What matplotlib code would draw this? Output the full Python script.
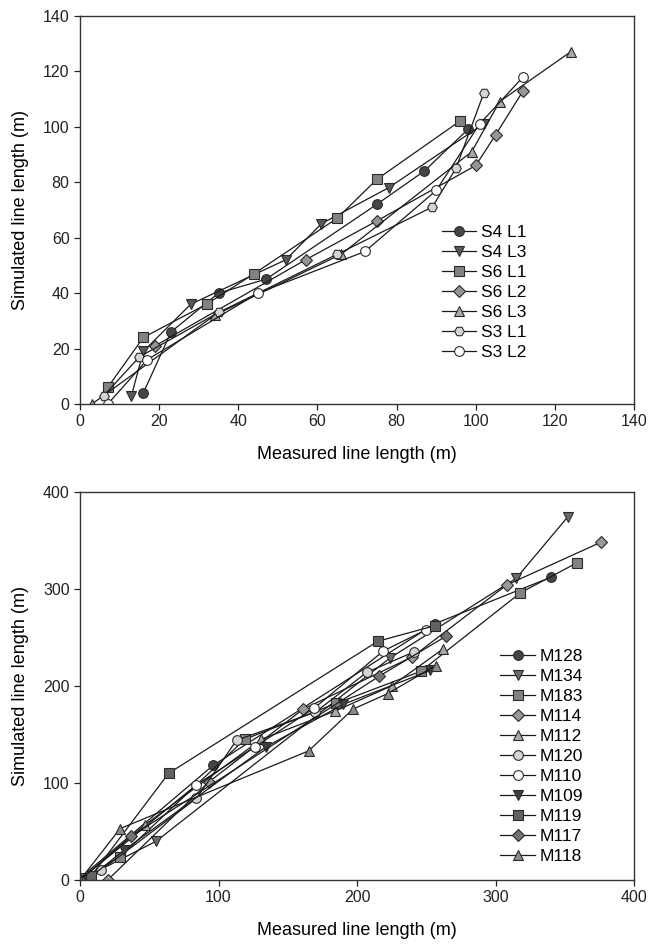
#!/usr/bin/env python3

import matplotlib
matplotlib.use("Agg")
import matplotlib.pyplot as plt

# top panel: measured (x) vs simulated (y) line length, m
top_names = ["S4 L1", "S4 L3", "S6 L1", "S6 L2", "S6 L3", "S3 L1", "S3 L2"]
top_x = [
    [16, 23, 35, 47, 75, 87, 98],
    [13, 16, 28, 52, 61, 78, 102],
    [7, 16, 32, 44, 65, 75, 96],
    [19, 57, 75, 100, 105, 112],
    [3, 34, 66, 99, 106, 124],
    [6, 15, 35, 65, 89, 95, 102],
    [7, 17, 45, 72, 90, 101, 112],
]
top_y = [
    [4, 26, 40, 45, 72, 84, 99],
    [3, 19, 36, 52, 65, 78, 101],
    [6, 24, 36, 47, 67, 81, 102],
    [21, 52, 66, 86, 97, 113],
    [0, 32, 54, 91, 109, 127],
    [3, 17, 33, 54, 71, 85, 112],
    [0, 16, 40, 55, 77, 101, 118],
]
top_markers = ["o", "v", "s", "D", "^", "H", "o"]
top_colors = ["#454545", "#585858", "#828282", "#959595", "#a8a8a8", "#d4d4d4", "#ffffff"]

# bottom panel
bot_names = ["M128", "M134", "M183", "M114", "M112", "M120", "M110",
             "M109", "M119", "M117", "M118"]
bot_x = [
    [0, 96, 256, 340],
    [0, 55, 224, 315, 352],
    [2, 29, 119, 185, 246, 318, 359],
    [20, 93, 161, 240, 308, 376],
    [0, 47, 131, 184, 225, 262],
    [15, 84, 113, 170, 207, 241],
    [0, 84, 126, 169, 219, 250],
    [5, 32, 134, 190, 253],
    [8, 64, 215, 256],
    [0, 37, 216, 264],
    [0, 29, 165, 197, 222, 257],
]
bot_y = [
    [2, 118, 264, 312],
    [0, 40, 229, 311, 374],
    [2, 24, 145, 182, 215, 296, 327],
    [0, 101, 176, 230, 304, 348],
    [0, 57, 145, 174, 200, 238],
    [10, 84, 144, 173, 214, 235],
    [0, 98, 137, 177, 236, 258],
    [0, 31, 137, 181, 216],
    [4, 110, 246, 262],
    [0, 45, 210, 251],
    [0, 53, 133, 176, 192, 221],
]
bot_markers = ["o", "v", "s", "D", "^", "o", "o", "v", "s", "D", "^"]
bot_colors = ["#454545", "#6a6a6a", "#828282", "#999999", "#a8a8a8", "#d4d4d4",
              "#ffffff", "#3e3e3e", "#626262", "#747474", "#8a8a8a"]


def draw(ax, xs, ys, names, markers, colors):
    for x, y, name, m, c in zip(xs, ys, names, markers, colors):
        ax.plot(x, y, color="#1a1a1a", lw=0.9, marker=m, ms=7 if m != "D" else 6,
                mfc=c, mec="#2a2a2a", mew=0.8, label=name)


plt.rcParams["font.family"] = ["Liberation Sans", "DejaVu Sans"]
fig = plt.figure(figsize=(6.49, 9.44), dpi=100)
ax1 = fig.add_axes([0.1233, 0.572, 0.8537, 0.4114])
ax2 = fig.add_axes([0.1233, 0.0678, 0.8537, 0.4112])

draw(ax1, top_x, top_y, top_names, top_markers, top_colors)
ax1.set_xlim(0, 140)
ax1.set_ylim(0, 140)
ax1.set_xticks(range(0, 141, 20))
ax1.set_yticks(range(0, 141, 20))

draw(ax2, bot_x, bot_y, bot_names, bot_markers, bot_colors)
ax2.set_xlim(0, 400)
ax2.set_ylim(0, 400)
ax2.set_xticks(range(0, 401, 100))
ax2.set_yticks(range(0, 401, 100))

for ax in (ax1, ax2):
    ax.set_xlabel("Measured line length (m)", fontsize=13, labelpad=12)
    ax.set_ylabel("Simulated line length (m)", fontsize=13, labelpad=10)
    ax.tick_params(direction="out", length=4, width=0.9, labelsize=11.5,
                   top=False, right=False, colors="#222222")
    for s in ax.spines.values():
        s.set_color("#333333")
        s.set_linewidth(1.0)

ax1.legend(loc="upper left", bbox_to_anchor=(0.64, 0.48), frameon=False,
           fontsize=12.5, handlelength=2.0, handletextpad=0.25,
           labelspacing=0.28, borderaxespad=0)
ax2.legend(loc="upper left", bbox_to_anchor=(0.746, 0.613), frameon=False,
           fontsize=12.5, handlelength=2.0, handletextpad=0.25,
           labelspacing=0.28, borderaxespad=0)

fig.savefig("out.png", dpi=100)
